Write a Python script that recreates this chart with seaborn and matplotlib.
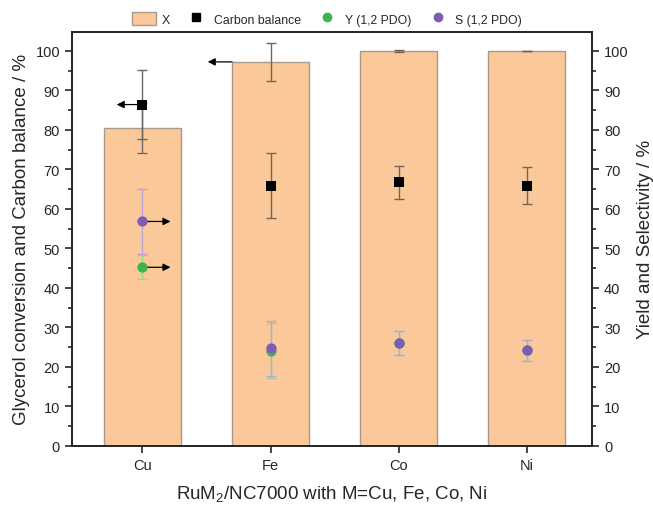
import matplotlib
matplotlib.use("Agg")
import matplotlib.pyplot as plt
import seaborn as sns
import numpy as np
import pandas as pd
from matplotlib.patches import Patch
from matplotlib.lines import Line2D
from matplotlib.ticker import MultipleLocator

# ---- data ----
metals = ["Cu", "Fe", "Co", "Ni"]
conversion = [80.5, 97.2, 99.9, 100.0]
conversion_err = [6.3, 4.8, 0.2, 0.0]
carbon_balance = [86.4, 65.9, 66.7, 65.9]
carbon_balance_err = [8.7, 8.2, 4.2, 4.75]
yield_pdo = [45.2, 24.1, 26.0, 24.2]
yield_pdo_err = [3.0, 6.9, 3.1, 2.7]
sel_pdo = [56.8, 24.7, 26.0, 24.2]
sel_pdo_err = [8.3, 7.0, 3.0, 2.7]

sns.set_style("ticks")
plt.rcParams["font.family"] = ["Liberation Sans", "DejaVu Sans"]
plt.rcParams["mathtext.fontset"] = "custom"
plt.rcParams["mathtext.rm"] = "Liberation Sans"
plt.rcParams["mathtext.it"] = "Liberation Sans:italic"

bar_color = "#FBC999"
bar_edge = "#A89A8C"
green = "#3DB54A"
purple = "#7E5BB5"

fig = plt.figure(figsize=(6.53, 5.06), dpi=100)
ax = fig.add_axes([0.110, 0.117, 0.797, 0.818])

df = pd.DataFrame({"metal": metals, "X": conversion})
sns.barplot(data=df, x="metal", y="X", color=bar_color, width=0.6,
            edgecolor=bar_edge, linewidth=1.0, saturation=1, ax=ax, zorder=1)
pos = np.arange(len(metals))

ax.errorbar(pos, conversion, yerr=conversion_err, fmt="none", ecolor="#6E6660",
            elinewidth=1, capsize=3.5, capthick=1, zorder=3)
ax.errorbar(pos, carbon_balance, yerr=carbon_balance_err, fmt="none",
            ecolor="#6E6660", elinewidth=1, capsize=3.5, capthick=1, zorder=3)
sns.scatterplot(x=pos, y=carbon_balance, marker="s", color="black", s=45,
                edgecolor="black", linewidth=0, ax=ax, zorder=5, legend=False)

ax.set_xlim(-0.55, 3.51)
ax.set_ylim(0, 104.8)
ax.yaxis.set_major_locator(MultipleLocator(10))
ax.yaxis.set_minor_locator(MultipleLocator(5))
ax.set_xlabel("RuM$_2$/NC7000 with M=Cu, Fe, Co, Ni", fontsize=13.5, labelpad=8)
ax.set_ylabel("Glycerol conversion and Carbon balance / %", fontsize=13.5, labelpad=4)
ax.tick_params(axis="both", labelsize=10.5, direction="out", width=1.2, length=5)
ax.tick_params(axis="y", which="minor", direction="out", width=1.2, length=3)
for sp in ax.spines.values():
    sp.set_linewidth(1.3)
    sp.set_visible(True)

ax2 = ax.twinx()
ax2.set_ylim(0, 104.8)
ax2.yaxis.set_major_locator(MultipleLocator(10))
ax2.yaxis.set_minor_locator(MultipleLocator(5))
ax2.errorbar(pos, yield_pdo, yerr=yield_pdo_err, fmt="none", ecolor="#9FD39A",
             elinewidth=1, capsize=3.5, capthick=1, zorder=3)
ax2.errorbar(pos, sel_pdo, yerr=sel_pdo_err, fmt="none", ecolor="#B9A5D8",
             elinewidth=1, capsize=3.5, capthick=1, zorder=3)
sns.scatterplot(x=pos, y=yield_pdo, marker="o", color=green, s=55,
                linewidth=0, ax=ax2, zorder=5, legend=False)
sns.scatterplot(x=pos, y=sel_pdo, marker="o", color=purple, s=55,
                linewidth=0, ax=ax2, zorder=6, legend=False)
ax2.set_ylabel("Yield and Selectivity / %", fontsize=13.5, labelpad=6)
ax2.tick_params(axis="y", labelsize=10.5, direction="out", width=1.2, length=5)
ax2.tick_params(axis="y", which="minor", direction="out", width=1.2, length=3)
for sp in ax2.spines.values():
    sp.set_linewidth(1.3)

# arrows indicating axis assignment
arrow_kw = dict(arrowstyle="-|>", color="black", lw=0.9, mutation_scale=11,
                shrinkA=0, shrinkB=0)
ax.annotate("", xy=(pos[0] - 0.2, carbon_balance[0]), xytext=(pos[0], carbon_balance[0]),
            arrowprops=arrow_kw, zorder=4)
ax.annotate("", xy=(pos[1] - 0.49, conversion[1]), xytext=(pos[1] - 0.3, conversion[1]),
            arrowprops=dict(arrow_kw, color="black"), zorder=4)
ax2.annotate("", xy=(pos[0] + 0.22, sel_pdo[0]), xytext=(pos[0], sel_pdo[0]),
             arrowprops=arrow_kw, zorder=4)
ax2.annotate("", xy=(pos[0] + 0.22, yield_pdo[0]), xytext=(pos[0], yield_pdo[0]),
             arrowprops=arrow_kw, zorder=4)

handles = [
    Patch(facecolor=bar_color, edgecolor=bar_edge, label="X"),
    Line2D([], [], marker="s", color="black", linestyle="none", markersize=5.5, label="Carbon balance"),
    Line2D([], [], marker="o", color=green, linestyle="none", markersize=6, label="Y (1,2 PDO)"),
    Line2D([], [], marker="o", color=purple, linestyle="none", markersize=6, label="S (1,2 PDO)"),
]
ax.legend(handles=handles, loc="lower center", bbox_to_anchor=(0.49, 1.0), ncol=4,
          frameon=False, fontsize=8.8, handlelength=2.0, handleheight=1.3,
          handletextpad=0.4, columnspacing=1.2, borderaxespad=0.1)

fig.savefig("out.png", dpi=100)
